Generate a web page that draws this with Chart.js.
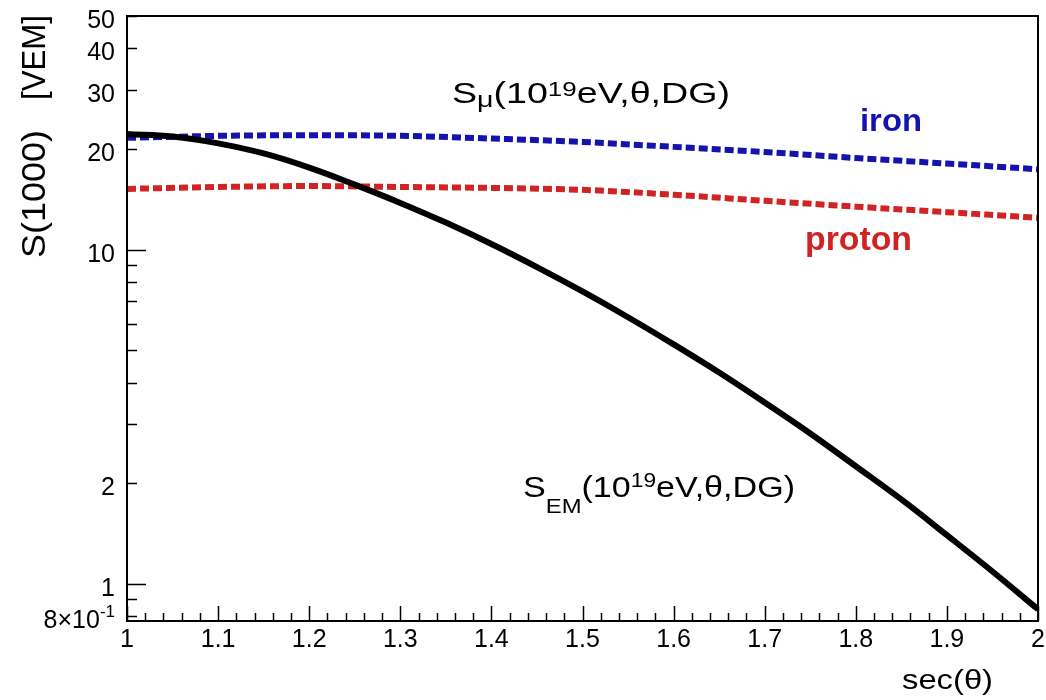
<!DOCTYPE html>
<html>
<head>
<meta charset="utf-8">
<script src="https://cdn.jsdelivr.net/npm/chart.js@4.4.1/dist/chart.umd.min.js"></script>
<style>
  html, body { margin: 0; padding: 0; background: #fff; overflow: hidden; }
  canvas { display: block; }
</style>
</head>
<body>
<canvas id="c" width="1046" height="700"></canvas>
<script>
// sec(theta) sampling of the muon signal curves
const secTheta = [1.0, 1.1, 1.2, 1.3, 1.4, 1.5, 1.6, 1.7, 1.8, 1.9, 2.0];
// S_mu(1000) for iron primaries [VEM]
const ironS = [21.6, 21.9, 22.0, 21.9, 21.5, 21.0, 20.3, 19.6, 18.8, 18.1, 17.4];
// S_mu(1000) for proton primaries [VEM]
const protonS = [15.2, 15.4, 15.5, 15.4, 15.3, 15.1, 14.6, 14.0, 13.45, 12.95, 12.45];

// electromagnetic signal S_EM(1000)
const emSecTheta = [1.0, 1.05, 1.1, 1.15, 1.2, 1.25, 1.3, 1.35, 1.4, 1.45, 1.5,
                    1.55, 1.6, 1.65, 1.7, 1.75, 1.8, 1.85, 1.9, 1.95, 2.0];
const emS = [22.2, 21.8, 20.8, 19.4, 17.6, 15.65, 13.8, 12.05, 10.4, 8.87, 7.5,
             6.28, 5.21, 4.29, 3.49, 2.82, 2.25, 1.79, 1.40, 1.09, 0.84];

// axis ticks
const xTickValues = [1, 1.1, 1.2, 1.3, 1.4, 1.5, 1.6, 1.7, 1.8, 1.9, 2];
const xTickLabels = ['1', '1.1', '1.2', '1.3', '1.4', '1.5', '1.6', '1.7', '1.8', '1.9', '2'];
const yTickValues = [0.8, 1, 2, 10, 20, 30, 40, 50];
const yTickLabels = ['8\u00d710^-1', '1', '2', '10', '20', '30', '40', '50'];
const yMinorValues = [0.9, 3, 4, 5, 6, 7, 8, 9];
const yLongTicks = [1, 10];

const FONT = '"Liberation Sans", Arial, Helvetica, sans-serif';
const IRON = '#1414ac';
const PROTON = '#d02424';

const toXY = (xs, ys) => xs.map((x, i) => ({ x, y: ys[i] }));

// draw a run of text pieces [text, size, dy, bold], optionally squeezed/stretched to a width
function richText(ctx, parts, x, base, width, color) {
  let w = 0;
  const widths = parts.map(p => {
    ctx.font = `${p[3] ? 'bold ' : ''}${p[1]}px ${FONT}`;
    const m = ctx.measureText(p[0]).width;
    w += m;
    return m;
  });
  const s = width ? width / w : 1;
  ctx.save();
  ctx.fillStyle = color || '#000';
  ctx.textBaseline = 'alphabetic';
  ctx.textAlign = 'left';
  ctx.translate(x, base);
  ctx.scale(s, 1);
  let cx = 0;
  parts.forEach((p, i) => {
    ctx.font = `${p[3] ? 'bold ' : ''}${p[1]}px ${FONT}`;
    ctx.fillText(p[0], cx, p[2]);
    cx += widths[i];
  });
  ctx.restore();
  return w * s;
}

function labelParts(label, size) {
  const k = label.indexOf('^');
  if (k < 0) return [[label, size, 0]];
  return [[label.slice(0, k), size, 0], [label.slice(k + 1), Math.round(size * 0.68), -Math.round(size * 0.42)]];
}

const framePlugin = {
  id: 'rootFrame',
  afterDatasetsDraw(chart) {
    const { ctx, chartArea: a, scales: { x, y } } = chart;
    ctx.save();
    ctx.strokeStyle = '#000';
    ctx.lineWidth = 2;
    ctx.strokeRect(a.left, a.top, a.right - a.left, a.bottom - a.top);

    // x ticks (inward): major every 0.1, minor every 0.02
    ctx.lineWidth = 1.5;
    ctx.beginPath();
    for (let i = 0; i <= 50; i++) {
      const v = 1 + i * 0.02;
      const px = Math.round(x.getPixelForValue(v)) + 0.5;
      const len = i % 5 === 0 ? 15 : 8;
      ctx.moveTo(px, a.bottom);
      ctx.lineTo(px, a.bottom - len);
    }
    // y ticks (inward)
    [...yTickValues, ...yMinorValues].forEach(v => {
      const py = Math.round(y.getPixelForValue(v)) + 0.5;
      const len = yLongTicks.includes(v) ? 19 : 10;
      ctx.moveTo(a.left, py);
      ctx.lineTo(a.left + len, py);
    });
    ctx.stroke();

    // x tick labels
    ctx.fillStyle = '#000';
    ctx.font = `25px ${FONT}`;
    ctx.textAlign = 'center';
    ctx.textBaseline = 'alphabetic';
    xTickValues.forEach((v, i) => {
      ctx.fillText(xTickLabels[i], x.getPixelForValue(v), 647);
    });

    // y tick labels, right aligned
    yTickValues.forEach((v, i) => {
      const parts = labelParts(yTickLabels[i], 25);
      let w = 0;
      parts.forEach(p => { ctx.font = `${p[1]}px ${FONT}`; w += ctx.measureText(p[0]).width; });
      const py = y.getPixelForValue(v);
      richText(ctx, parts, 115 - w, py + 12, 0, '#000');
    });

    // axis titles
    richText(ctx, [['sec(', 28, 0], ['\u03b8', 28, 0], [')', 28, 0]], 902, 689, 91, '#000');
    ctx.save();
    ctx.translate(45, 258);
    ctx.rotate(-Math.PI / 2);
    richText(ctx, [['S(1000)', 33, 0]], 0, 0, 128, '#000');
    richText(ctx, [['[VEM]', 33, 0]], 158, 0, 85, '#000');
    ctx.restore();

    // curve annotations
    richText(ctx, [['S', 29, 0], ['\u03bc', 22, 4], ['(10', 29, 0], ['19', 20, -7], ['eV,\u03b8,DG)', 29, 0]],
      452, 103, 278, '#000');
    richText(ctx, [['S', 30, 0], ['EM', 21, 16], ['(10', 30, 0], ['19', 20, -10], ['eV,\u03b8,DG)', 30, 0]],
      523, 497, 272, '#000');
    richText(ctx, [['iron', 32, 0, true]], 860, 131, 62, IRON);
    richText(ctx, [['proton', 33, 0, true]], 805, 250, 107, PROTON);
    ctx.restore();
  }
};

new Chart(document.getElementById('c'), {
  type: 'line',
  data: {
    datasets: [
      {
        label: 'S_EM',
        data: toXY(emSecTheta, emS),
        borderColor: '#000',
        borderWidth: 6,
        pointRadius: 0,
        tension: 0.4,
        order: 0
      },
      {
        label: 'iron',
        data: toXY(secTheta, ironS),
        borderColor: IRON,
        borderWidth: 6,
        borderDash: [9, 4],
        pointRadius: 0,
        cubicInterpolationMode: 'monotone',
        order: 1
      },
      {
        label: 'proton',
        data: toXY(secTheta, protonS),
        borderColor: PROTON,
        borderWidth: 6,
        borderDash: [9, 4],
        pointRadius: 0,
        cubicInterpolationMode: 'monotone',
        order: 2
      }
    ]
  },
  options: {
    responsive: false,
    animation: false,
    devicePixelRatio: 1,
    layout: { padding: { left: 127, right: 8, top: 16, bottom: 79 } },
    plugins: { legend: { display: false }, tooltip: { enabled: false } },
    scales: {
      x: { type: 'linear', min: 1, max: 2, display: false },
      y: { type: 'logarithmic', min: 0.775, max: 50, display: false }
    }
  },
  plugins: [framePlugin]
});
</script>
</body>
</html>
